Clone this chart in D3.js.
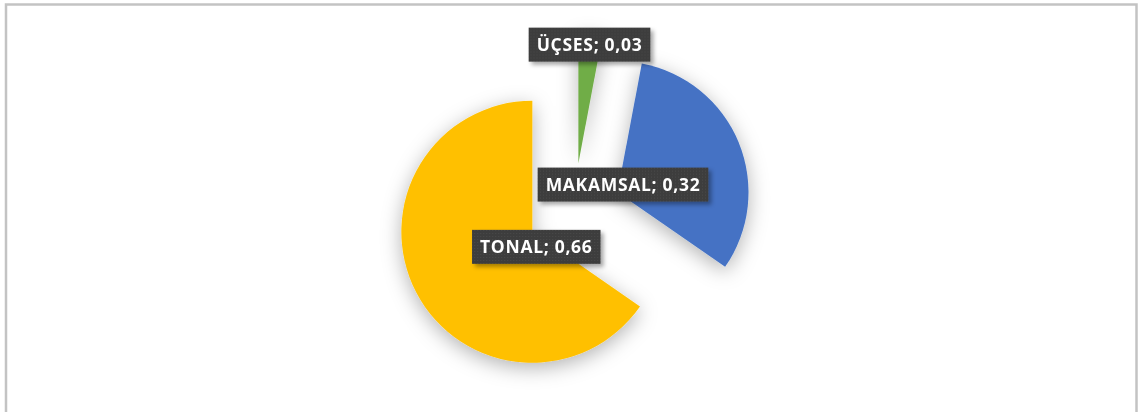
<!DOCTYPE html>
<html>
<head>
<meta charset="utf-8">
<script src="https://cdn.jsdelivr.net/npm/d3@7"></script>
<style>
    html, body { margin: 0; padding: 0; background: #fff; }
    #chart { width: 1138px; height: 412px; }
</style>
</head>
<body>
<div id="chart"></div>
<script>
// data, clockwise from 12 o'clock as in the original sheet
const categories = ['ÜÇSES', 'MAKAMSAL', 'TONAL'];
const values = [0.03, 0.32, 0.66];
const sliceColors = ['#70AD47', '#4472C4', '#FFC000'];

const width = 1138;
const height = 412;
const cx = 574;
const cy = 210;
const radius = 131;
const explode = 47;

// label nudge from each slice's tip, in radius units (dx, dy)
const labelNudge = [[0.085, -0.905], [0.042, -0.058], [0.03, 0.115]];

const svg = d3.select('#chart').append('svg')
    .attr('width', width)
    .attr('height', height)

const defs = svg.append('defs')

const pieShadow = defs.append('filter')
    .attr('id', 'pieShadow')
    .attr('x', '-40%').attr('y', '-40%')
    .attr('width', '180%').attr('height', '180%')
pieShadow.append('feDropShadow')
    .attr('dx', 0).attr('dy', 5)
    .attr('stdDeviation', 10)
    .attr('flood-color', '#000')
    .attr('flood-opacity', 0.3)

const boxShadow = defs.append('filter')
    .attr('id', 'boxShadow')
    .attr('x', '-20%').attr('y', '-40%')
    .attr('width', '140%').attr('height', '180%')
boxShadow.append('feDropShadow')
    .attr('dx', 3).attr('dy', 3)
    .attr('stdDeviation', 2)
    .attr('flood-color', '#000')
    .attr('flood-opacity', 0.35)

const dots = defs.append('pattern')
    .attr('id', 'dots')
    .attr('width', 3).attr('height', 3)
    .attr('patternUnits', 'userSpaceOnUse')
dots.append('rect').attr('width', 3).attr('height', 3).attr('fill', '#3c3c3c')
dots.append('rect').attr('x', 1).attr('y', 1).attr('width', 1).attr('height', 1).attr('fill', '#4c4c4c')

// chart frame
svg.append('rect')
    .attr('x', 6).attr('y', 4.5)
    .attr('width', 1130.5).attr('height', 430)
    .attr('fill', '#fff')
    .attr('stroke', '#c3c3c3')
    .attr('stroke-width', 2.5)

const pie = d3.pie().sort(null).value(d => d)
const arcs = pie(values)

const arc = d3.arc().innerRadius(0).outerRadius(radius)

const tip = d => {
    const mid = (d.startAngle + d.endAngle) / 2;
    return [cx + explode * Math.sin(mid), cy - explode * Math.cos(mid)];
}

const slices = svg.append('g')
    .attr('class', 'slices')
    .attr('filter', 'url(#pieShadow)')
    .selectAll('path')
    .data(arcs)
        .enter().append('path')
        .attr('transform', d => 'translate(' + tip(d) + ')')
        .attr('d', arc)
        .style('fill', (d, i) => sliceColors[i])

const fmt = v => d3.format('.2f')(v).replace('.', ',')

const label = svg.append('g')
    .attr('class', 'labels')
    .selectAll('g')
    .data(arcs)
        .enter().append('g')
        .attr('transform', (d, i) => {
            const [x, y] = tip(d);
            return 'translate(' + (x + labelNudge[i][0] * radius) + ',' + (y + labelNudge[i][1] * radius) + ')';
        })

const boxes = label.append('rect')
    .attr('fill', 'url(#dots)')
    .attr('filter', 'url(#boxShadow)')

const texts = label.append('text')
    .attr('text-anchor', 'middle')
    .attr('dy', '0.36em')
    .style('font-family', '"Open Sans", Lato, sans-serif')
    .style('font-weight', 'bold')
    .style('font-size', '17.5px')
    .style('letter-spacing', '0.7px')
    .style('fill', '#fff')
    .text((d, i) => categories[i] + '; ' + fmt(values[i]))

texts.each(function(d, i) {
    const w = this.getComputedTextLength();
    d3.select(boxes.nodes()[i])
        .attr('x', -w / 2 - 8)
        .attr('y', -17)
        .attr('width', w + 16)
        .attr('height', 34)
})
</script>
</body>
</html>
